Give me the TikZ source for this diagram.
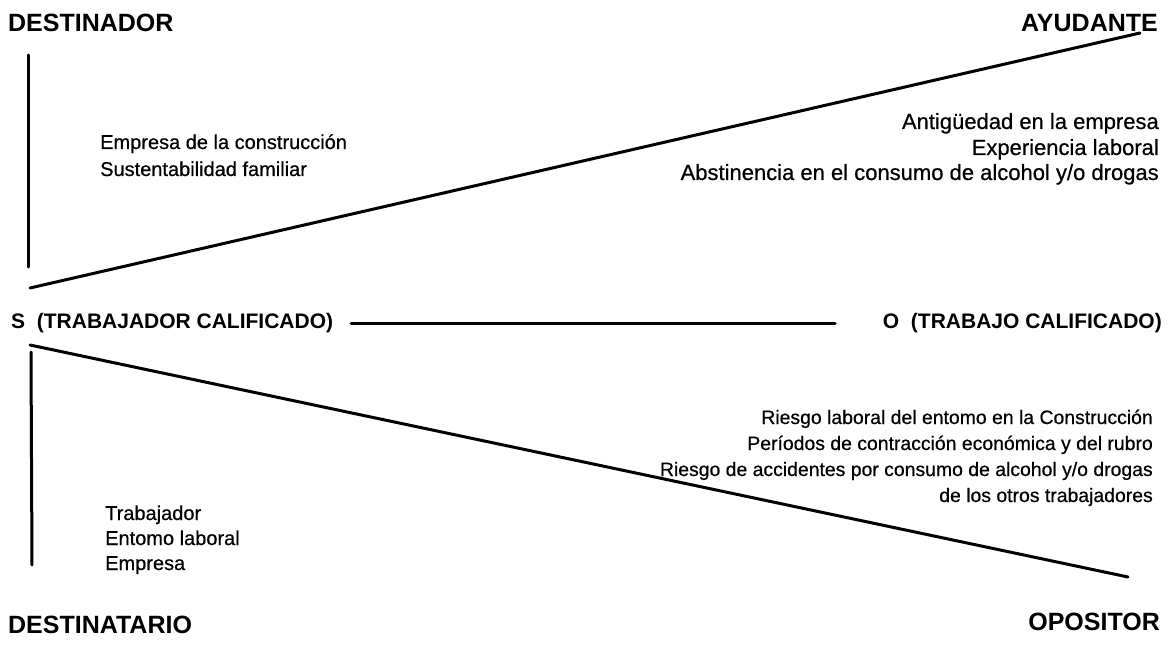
\documentclass[tikz,border=0pt]{standalone}
\usepackage{fontspec}
\setmainfont{Liberation Sans}
\newfontfamily\txtfont[FakeBold=0.6]{Liberation Sans}
\begin{document}
\begin{tikzpicture}[x=1pt,y=-1pt,
  head/.style={inner sep=0pt,font=\fontsize{25}{28}\selectfont\bfseries},
  mid/.style={inner sep=0pt,font=\fontsize{21}{24}\selectfont\bfseries},
  smallA/.style={inner sep=0pt,font=\txtfont\fontsize{20}{24}\selectfont},
  smallB/.style={inner sep=0pt,font=\txtfont\fontsize{22}{26}\selectfont},
  smallC/.style={inner sep=0pt,font=\txtfont\fontsize{19.4}{24}\selectfont},
  bar/.style={line width=3pt,line cap=round}]
\useasboundingbox (0,0) rectangle (1170,647);
% headings
\node[head,anchor=base west] (destinador) at (8,32) {DESTINADOR};
\node[head,anchor=base east] (ayudante) at (1158,32) {AYUDANTE};
\node[head,anchor=base west] (destinatario) at (8,633) {DESTINATARIO};
\node[head,anchor=base east] (opositor) at (1160,630) {OPOSITOR};
\node[mid,anchor=base west] (s) at (11,328) {S\ \ (TRABAJADOR CALIFICADO)};
\node[mid,anchor=base east] (o) at (1162,328) {O\ \ (TRABAJO CALIFICADO)};
% upper left texts
\node[smallA,anchor=base west] (ul1) at (100,149) {Empresa de la construcción};
\node[smallA,anchor=base west] (ul2) at (100,176) {Sustentabilidad familiar};
% upper right texts
\node[smallB,anchor=base east] (ur1) at (1159,129) {Antigüedad en la empresa};
\node[smallB,anchor=base east] (ur2) at (1159,155) {Experiencia laboral};
\node[smallB,anchor=base east] (ur3) at (1159,180) {Abstinencia en el consumo de alcohol y/o drogas};
% lower right texts
\node[smallC,anchor=base east] (lr1) at (1153,424) {Riesgo laboral del entomo en la Construcción};
\node[smallC,anchor=base east] (lr2) at (1153,450) {Períodos de contracción económica y del rubro};
\node[smallC,anchor=base east] (lr3) at (1153,476) {Riesgo de accidentes por consumo de alcohol y/o drogas};
\node[smallC,anchor=base east] (lr4) at (1153,502) {de los otros trabajadores};
% lower left texts
\node[smallA,anchor=base west] (ll1) at (105,520) {Trabajador};
\node[smallA,anchor=base west] (ll2) at (105,545) {Entomo laboral};
\node[smallA,anchor=base west] (ll3) at (105,570) {Empresa};
% lines
\coordinate (v1a) at (28,55);
\coordinate (v1b) at (28,267);
\coordinate (d1a) at (30,288);
\coordinate (d1b) at (1140,33);
\coordinate (ha) at (351,323);
\coordinate (hb) at (835,323);
\coordinate (d2a) at (30,345);
\coordinate (d2b) at (1128,577);
\coordinate (v2a) at (31,352);
\coordinate (v2b) at (32,565);
\draw[bar] (v1a) -- (v1b);
\draw[bar] (d1a) -- (d1b);
\draw[bar] (ha) -- (hb);
\draw[bar] (d2a) -- (d2b);
\draw[bar] (v2a) -- (v2b);
\end{tikzpicture}
\end{document}
